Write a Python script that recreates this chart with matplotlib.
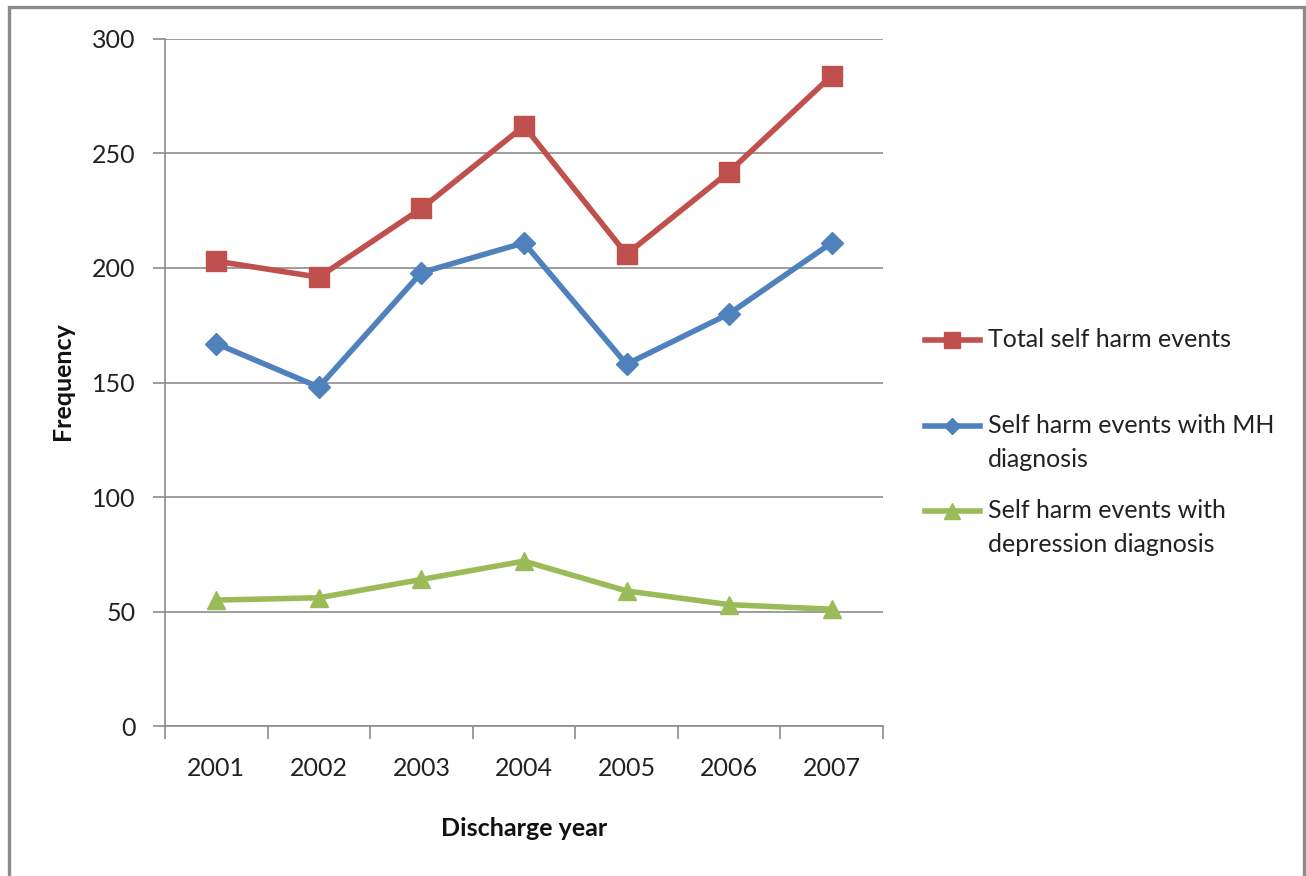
import matplotlib
matplotlib.use("Agg")
import matplotlib.pyplot as plt
from matplotlib.lines import Line2D
from matplotlib.patches import Rectangle

plt.rcParams['font.family'] = ['Lato', 'DejaVu Sans']

# discharge years and yearly counts
years = ['2001', '2002', '2003', '2004', '2005', '2006', '2007']
total_events = [203, 196, 226, 262, 206, 242, 284]
mh_events = [167, 148, 198, 211, 158, 180, 211]
depression_events = [55, 56, 64, 72, 59, 53, 51]

series_labels = ['Total self harm events',
                 'Self harm events with MH\ndiagnosis',
                 'Self harm events with\ndepression diagnosis']
y_ticks = [0, 50, 100, 150, 200, 250, 300]

red, blue, green = '#C0504D', '#4F81BD', '#9BBB59'
grey = '#8C8C8C'
W, H = 1306, 876

fig = plt.figure(figsize=(W / 100, H / 100), dpi=100)
ax = fig.add_axes([0.1263, 0.1712, 0.5498, 0.7843])

x = range(len(years))
ax.plot(x, total_events, color=red, lw=4.0, marker='s', ms=14, zorder=3)
ax.plot(x, mh_events, color=blue, lw=4.0, marker='D', ms=11, zorder=3)
ax.plot(x, depression_events, color=green, lw=4.0, marker='^', ms=13, zorder=3)

ax.set_xlim(-0.5, len(years) - 0.5)
ax.set_ylim(0, 300)
ax.set_yticks(y_ticks)
ax.set_yticklabels([str(v) for v in y_ticks])
ax.yaxis.grid(True, color=grey, lw=1.2)
ax.set_axisbelow(True)

# category boundaries carry the ticks, centres carry the year labels
ax.set_xticks([i - 0.5 for i in range(len(years) + 1)])
ax.set_xticklabels([])
ax.set_xticks(list(x), minor=True)
ax.set_xticklabels(years, minor=True)
ax.tick_params(axis='x', which='major', length=9, width=1.2, color=grey, direction='out')
ax.tick_params(axis='x', which='minor', length=0, pad=22, labelsize=18, labelcolor='#222222')
ax.tick_params(axis='y', length=9, width=1.2, color=grey, pad=12, labelsize=18, labelcolor='#222222')

for side in ['top', 'right']:
    ax.spines[side].set_visible(False)
for side in ['left', 'bottom']:
    ax.spines[side].set_color(grey)
    ax.spines[side].set_linewidth(1.2)

fig.text(62 / W, 1 - 381 / H, 'Frequency', rotation=90, ha='center', va='center',
         fontsize=18, fontweight='bold', color='#111111')
fig.text(524 / W, 1 - 828 / H, 'Discharge year', ha='center', va='center',
         fontsize=18, fontweight='bold', color='#111111')

# legend drawn by hand so each handle sits on the first text line
legend_rows = [(340, red, 's', 11), (426, blue, 'D', 8), (511, green, '^', 11)]
for (ypx, col, mk, ms), label in zip(legend_rows, series_labels):
    yf = 1 - ypx / H
    fig.add_artist(Line2D([925 / W, 980 / W], [yf, yf], color=col, lw=4.0,
                          transform=fig.transFigure))
    fig.add_artist(Line2D([952 / W], [yf], color=col, marker=mk, ms=ms, lw=0,
                          transform=fig.transFigure))
    for k, line in enumerate(label.split('\n')):
        fig.text(988 / W, 1 - (ypx + 7 + 34 * k) / H, line, ha='left', va='baseline',
                 fontsize=18, color='#222222')

# outer frame of the chart area
fig.add_artist(Rectangle((9 / W, -0.05), 1295 / W, 1.05 - 7 / H,
                         transform=fig.transFigure, fill=False,
                         edgecolor=grey, lw=2.4))

fig.savefig('out.png', dpi=100)
